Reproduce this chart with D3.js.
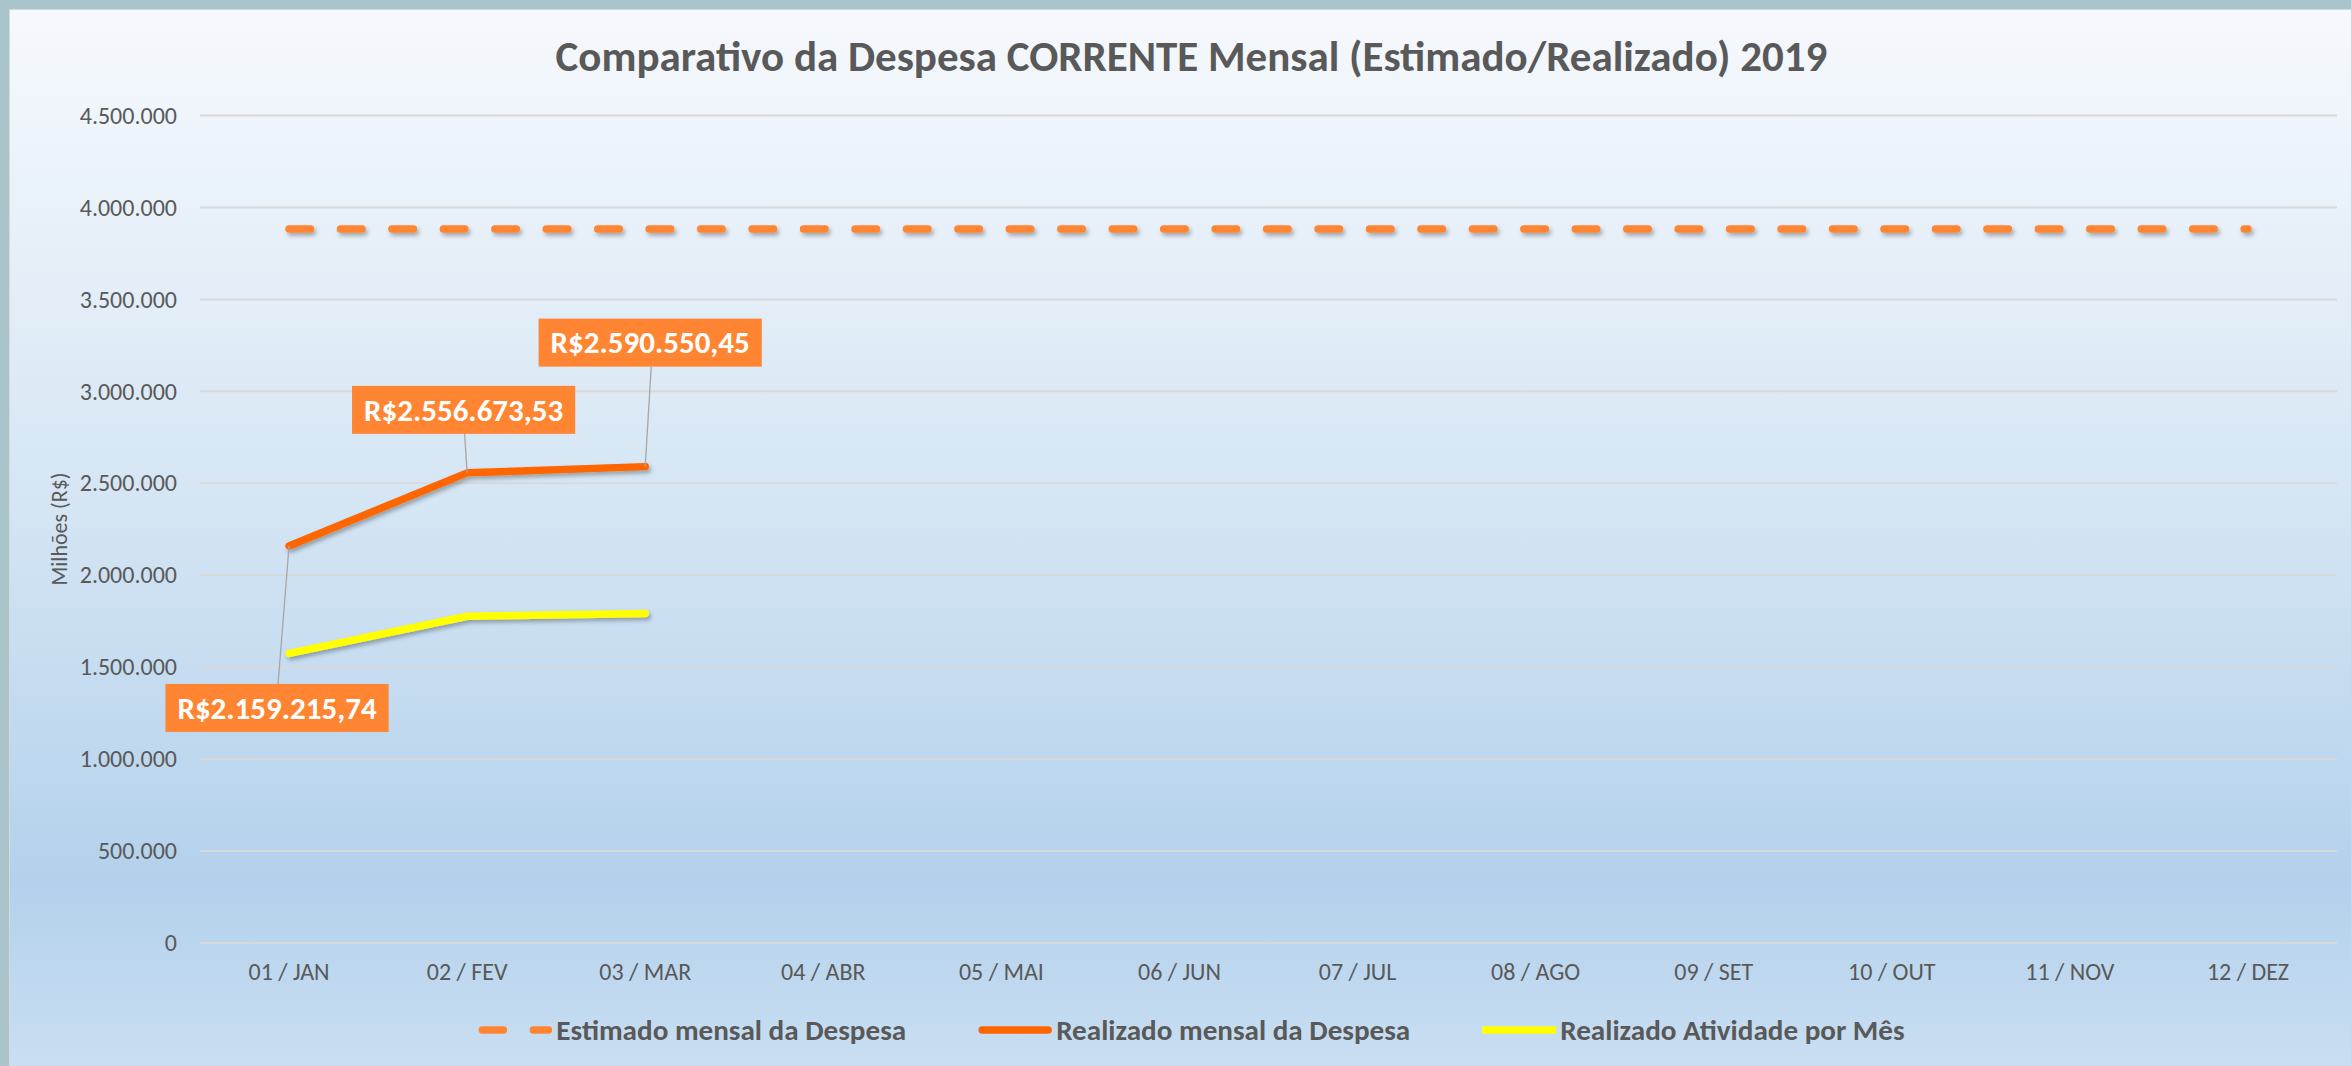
<!DOCTYPE html>
<html>
<head>
<meta charset="utf-8">
<script src="https://cdn.jsdelivr.net/npm/d3@7"></script>
<style>
  body { margin: 0; background: #aac4cc; }
  text { font-family: Carlito, Calibri, "Liberation Sans Narrow", "Open Sans", sans-serif; }
</style>
</head>
<body>
<script>
var months = ["01 / JAN", "02 / FEV", "03 / MAR", "04 / ABR", "05 / MAI", "06 / JUN",
              "07 / JUL", "08 / AGO", "09 / SET", "10 / OUT", "11 / NOV", "12 / DEZ"]
var estimado = [3883000, 3883000, 3883000, 3883000, 3883000, 3883000,
                3883000, 3883000, 3883000, 3883000, 3883000, 3883000]
var realizado = [2159215.74, 2556673.53, 2590550.45]
var atividade = [1575000, 1777000, 1792000]
var yTicks = [0, 500000, 1000000, 1500000, 2000000, 2500000, 3000000, 3500000, 4000000, 4500000]
var seriesNames = ["Estimado mensal da Despesa", "Realizado mensal da Despesa", "Realizado Atividade por Mês"]

var screen = {width: 2351, height: 1066}
var margins = {top: 115.5, bottom: 123, left: 200, right: 14}
var gray = "#595959"

var locale = d3.formatLocale({decimal: ",", thousands: ".", grouping: [3], currency: ["R$", ""]})
var fmtTick = locale.format(",.0f")
var fmtMoney = locale.format("$,.2f")

var svg = d3.select("body")
  .append("svg")
  .attr("width", screen.width)
  .attr("height", screen.height)

var defs = svg.append("defs")
var grad = defs.append("linearGradient")
  .attr("id", "bg")
  .attr("x1", 0).attr("y1", 0).attr("x2", 0).attr("y2", 1)
grad.append("stop").attr("offset", "0%").attr("stop-color", "#f6f9fd")
grad.append("stop").attr("offset", "45%").attr("stop-color", "#d6e6f4")
grad.append("stop").attr("offset", "82%").attr("stop-color", "#b3d1ec")
grad.append("stop").attr("offset", "100%").attr("stop-color", "#cadff2")

var filt = defs.append("filter")
  .attr("id", "shadow")
  .attr("filterUnits", "userSpaceOnUse")
  .attr("x", 0).attr("y", 0)
  .attr("width", screen.width).attr("height", screen.height)
filt.append("feDropShadow")
  .attr("dx", 2).attr("dy", 3)
  .attr("stdDeviation", 2)
  .attr("flood-color", "#000")
  .attr("flood-opacity", 0.3)

// outer frame + chart area
svg.append("rect")
  .attr("width", screen.width).attr("height", screen.height)
  .attr("fill", "#aac4cc")
svg.append("rect")
  .attr("x", 9.5).attr("y", 9.5)
  .attr("width", screen.width).attr("height", screen.height)
  .attr("fill", "url(#bg)")
  .attr("stroke", "#d9d9d9")

// width factor so the fallback font takes the room Calibri would
var probe = svg.append("text").attr("font-size", 100).text("0123456789")
var kReg = 507 / probe.node().getComputedTextLength()
probe.attr("font-weight", "bold")
var kBold = 507 / probe.node().getComputedTextLength()
probe.remove()

var fit = function(sel, k)
{
  sel.each(function()
  {
    var w = this.getComputedTextLength()
    d3.select(this).attr("textLength", w * k).attr("lengthAdjust", "spacingAndGlyphs")
  })
}

var xScale = d3.scaleBand()
  .domain(months)
  .range([margins.left, screen.width - margins.right])
var yScale = d3.scaleLinear()
  .domain([0, 4500000])
  .range([screen.height - margins.bottom, margins.top])
var xc = function(i) { return xScale(months[i]) + xScale.bandwidth() / 2 }

// gridlines
svg.append("g")
  .selectAll("line")
  .data(yTicks)
  .enter()
  .append("line")
  .attr("x1", margins.left)
  .attr("x2", screen.width - margins.right)
  .attr("y1", function(d) { return yScale(d) })
  .attr("y2", function(d) { return yScale(d) })
  .attr("stroke", "#d9d9d9")
  .attr("stroke-width", 2)

// y axis labels
var yAxis = d3.axisLeft(yScale).tickValues(yTicks).tickFormat(fmtTick).tickSize(0).tickPadding(23)
var gy = svg.append("g")
  .attr("transform", "translate(" + margins.left + ",0)")
  .call(yAxis)
gy.select(".domain").remove()
gy.selectAll("text")
  .attr("font-size", 24)
  .attr("fill", gray)
  .attr("font-family", null)
  .call(fit, kReg)

// x axis labels
var xAxis = d3.axisBottom(xScale).tickSize(0).tickPadding(20)
var gx = svg.append("g")
  .attr("transform", "translate(0," + yScale(0) + ")")
  .call(xAxis)
gx.select(".domain").remove()
gx.selectAll("text")
  .attr("font-size", 24)
  .attr("fill", gray)
  .attr("font-family", null)
  .call(fit, kReg)

// axis title
svg.append("text")
  .attr("transform", "translate(67,529) rotate(-90)")
  .attr("text-anchor", "middle")
  .attr("font-size", 22)
  .attr("fill", gray)
  .text("Milhões (R$)")
  .call(fit, kReg)

// title
svg.append("text")
  .attr("x", 1191.5)
  .attr("y", 71)
  .attr("text-anchor", "middle")
  .attr("font-size", 43)
  .attr("font-weight", "bold")
  .attr("fill", gray)
  .text("Comparativo da Despesa CORRENTE Mensal (Estimado/Realizado) 2019")
  .call(fit, kBold)

// lines
var line = d3.line()
  .x(function(d, i) { return xc(i) })
  .y(function(d) { return yScale(d) })

svg.append("path")
  .datum(estimado)
  .attr("d", line)
  .attr("fill", "none")
  .attr("stroke", "#ff8533")
  .attr("stroke-width", 7.5)
  .attr("stroke-linecap", "round")
  .attr("stroke-dasharray", "21.5,29.95")   // ends on a dot at DEZ like Excel
  .attr("filter", "url(#shadow)")

svg.append("path")
  .datum(realizado)
  .attr("d", line)
  .attr("fill", "none")
  .attr("stroke", "#ff6600")
  .attr("stroke-width", 7.5)
  .attr("stroke-linecap", "round")
  .attr("stroke-linejoin", "round")
  .attr("filter", "url(#shadow)")

svg.append("path")
  .datum(atividade)
  .attr("d", line)
  .attr("fill", "none")
  .attr("stroke", "#ffff00")
  .attr("stroke-width", 7.5)
  .attr("stroke-linecap", "round")
  .attr("stroke-linejoin", "round")
  .attr("filter", "url(#shadow)")

// data labels (offsets of each box from its point)
var labelOffsets = [{dx: -12, dy: 162}, {dx: -3.5, dy: -63}, {dx: 5, dy: -124}]
var boxH = 48

var gl = svg.append("g")
  .selectAll("g")
  .data(realizado)
  .enter()
  .append("g")

gl.each(function(d, i)
{
  var g = d3.select(this)
  var px = xc(i), py = yScale(d)
  var cx = px + labelOffsets[i].dx, cy = py + labelOffsets[i].dy
  var edge = labelOffsets[i].dy > 0 ? cy - boxH / 2 : cy + boxH / 2

  g.append("line")
    .attr("x1", cx + 1).attr("y1", edge)
    .attr("x2", px).attr("y2", py)
    .attr("stroke", "#a6a6a6")
    .attr("stroke-width", 1.3)

  var rect = g.append("rect").attr("fill", "#ff8533")
  var t = g.append("text")
    .attr("x", cx)
    .attr("y", cy)
    .attr("dy", "0.35em")
    .attr("text-anchor", "middle")
    .attr("font-size", 31)
    .attr("font-weight", "bold")
    .attr("fill", "#ffffff")
    .text(fmtMoney(d))
    .call(fit, kBold)
  var w = +t.attr("textLength") + 24
  rect.attr("x", cx - w / 2).attr("y", cy - boxH / 2)
    .attr("width", w).attr("height", boxH)
})

// legend
var legY = 1030
var swW = 74
var itemGap = 72
var legend = svg.append("g")
var items = legend.selectAll("g")
  .data(seriesNames)
  .enter()
  .append("g")
items.append("text")
  .attr("x", swW + 4)
  .attr("y", legY)
  .attr("dy", "0.35em")
  .attr("font-size", 28)
  .attr("font-weight", "bold")
  .attr("fill", gray)
  .text(function(d) { return d })
  .call(fit, kBold * 1.04)

var widths = []
items.select("text").each(function() { widths.push(+d3.select(this).attr("textLength") + swW + 4) })
var total = d3.sum(widths) + itemGap * (widths.length - 1)
var pos = 1191.5 - total / 2
items.attr("transform", function(d, i)
{
  var x = pos
  pos += widths[i] + itemGap
  return "translate(" + x + ",0)"
})

var swatchStyle = [
  {color: "#ff8533", dash: "21,30", cap: "round"},
  {color: "#ff6600", dash: null, cap: "round"},
  {color: "#ffff00", dash: null, cap: "butt"}
]
items.insert("line", "text")
  .attr("x1", function(d, i) { return swatchStyle[i].cap == "round" ? 4 : 0 })
  .attr("x2", function(d, i) { return swatchStyle[i].cap == "round" ? swW - 4 : swW })
  .attr("y1", legY)
  .attr("y2", legY)
  .attr("stroke", function(d, i) { return swatchStyle[i].color })
  .attr("stroke-width", 7.5)
  .attr("stroke-linecap", function(d, i) { return swatchStyle[i].cap })
  .attr("stroke-dasharray", function(d, i) { return swatchStyle[i].dash })
</script>
</body>
</html>
